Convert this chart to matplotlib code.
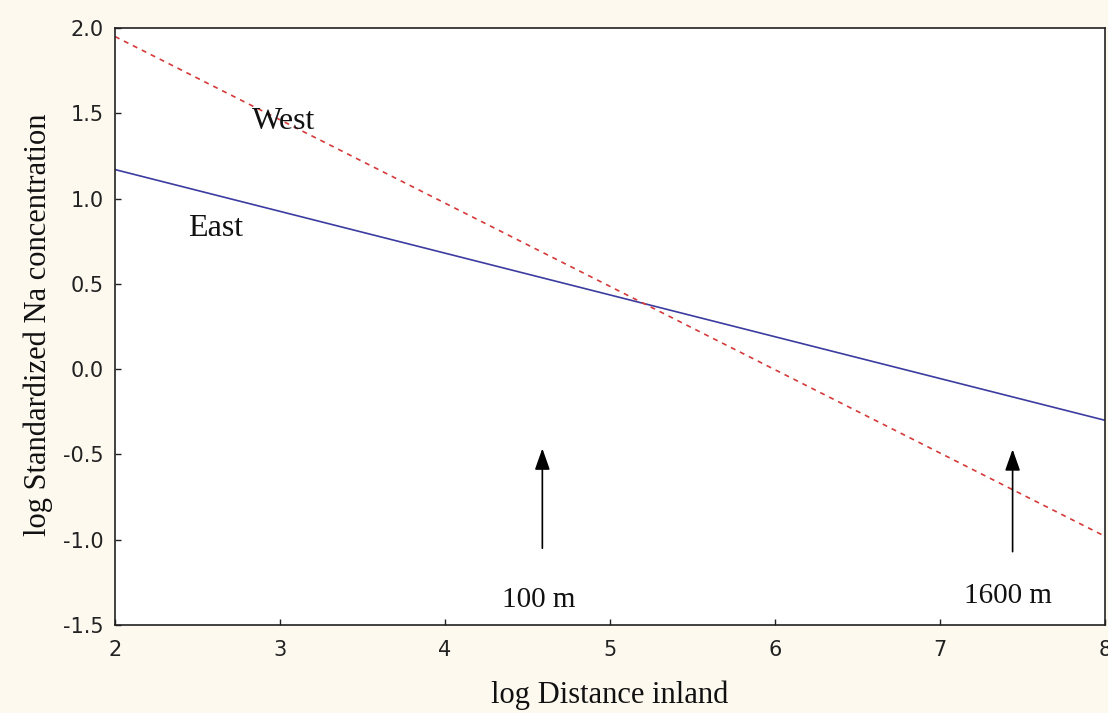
import matplotlib
matplotlib.use("Agg")
import matplotlib.pyplot as plt
from matplotlib.patches import ArrowStyle

# regression lines (log distance vs log standardized Na)
x_ends = [2.0, 8.0]
east_y = [1.17, -0.30]
west_y = [1.95, -0.98]

# site markers: (x, arrow tip y, arrow tail y, label x, label y, text)
marker_x = [4.59, 7.44]
marker_tip = [-0.465, -0.47]
marker_tail = [-1.05, -1.07]
marker_label_x = [4.567, 7.41]
marker_label_y = [-1.394, -1.37]
marker_text = ["100 m", "1600 m"]

xticks = [2, 3, 4, 5, 6, 7, 8]
yticks = [-1.5, -1.0, -0.5, 0.0, 0.5, 1.0, 1.5, 2.0]

serif = ["Liberation Serif", "DejaVu Serif"]

fig = plt.figure(figsize=(11.08, 7.13), dpi=100, facecolor="#fdf9ef")
ax = fig.add_axes([115 / 1108, 1 - 625 / 713, 990 / 1108, 597 / 713])
ax.set_facecolor("white")

ax.plot(x_ends, east_y, color="#3c3ca0", lw=1.2, solid_capstyle="butt")
ax.plot(x_ends, west_y, color="#d43a3a", lw=1.2, linestyle=(0, (3, 3)))

ax.text(2.83, 1.408, "West", family=serif, fontsize=23, color="#111",
        ha="left", va="baseline")
ax.text(2.44, 0.781, "East", family=serif, fontsize=23, color="#111",
        ha="left", va="baseline")

head = ArrowStyle("-|>", head_length=0.65, head_width=0.23)
for x, tip, tail, lx, ly, txt in zip(marker_x, marker_tip, marker_tail,
                                     marker_label_x, marker_label_y, marker_text):
    ax.annotate("", xy=(x, tip), xytext=(x, tail),
                arrowprops=dict(arrowstyle=head, color="black", lw=1.2,
                                mutation_scale=20, shrinkA=0, shrinkB=0))
    ax.text(lx, ly, txt, family=serif, fontsize=21, color="#111",
            ha="center", va="baseline")

ax.set_xlim(2, 8)
ax.set_ylim(-1.5, 2.0)
ax.set_xticks(xticks)
ax.set_yticks(yticks)
ax.set_xticklabels([str(t) for t in xticks])
ax.set_yticklabels([f"{t:.1f}" for t in yticks])
ax.tick_params(direction="in", length=4, width=1, colors="#222",
               labelsize=15, top=False, right=False)
ax.tick_params(axis="x", pad=11)
ax.tick_params(axis="y", pad=8)
for lab in ax.get_xticklabels() + ax.get_yticklabels():
    lab.set_family("DejaVu Sans")

for sp in ax.spines.values():
    sp.set_color("#222")
    sp.set_linewidth(1.2)

ax.set_xlabel("log Distance inland", family=serif, fontsize=22, color="#111",
              va="baseline")
ax.xaxis.set_label_coords(0.5, -78 / 597)
ax.set_ylabel("log Standardized Na concentration", family=serif, fontsize=22,
              color="#111", va="center")
ax.yaxis.set_label_coords(-77 / 990, 0.503)

fig.savefig("out.png", dpi=100, facecolor=fig.get_facecolor())
